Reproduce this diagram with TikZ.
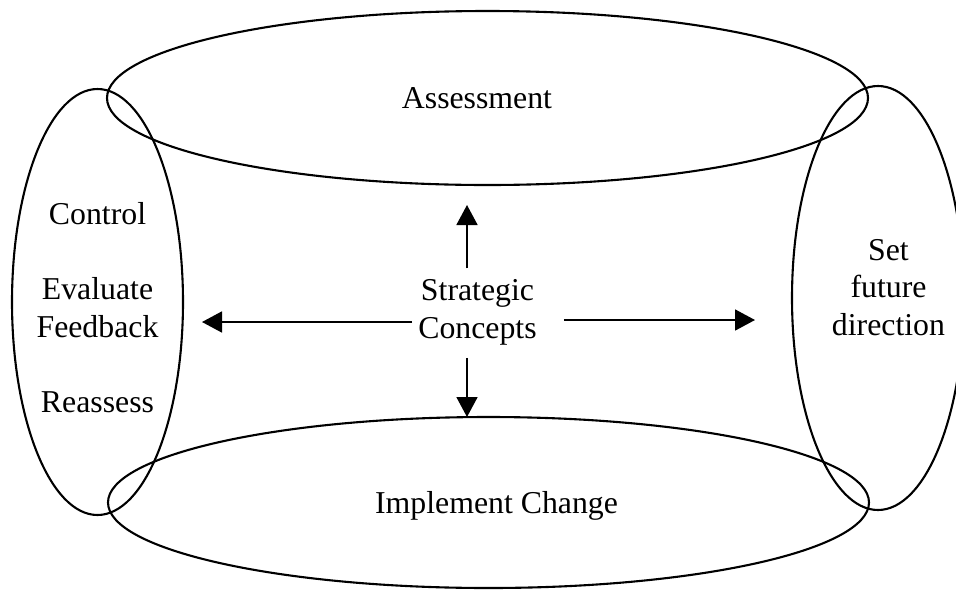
\documentclass[tikz,border=0pt]{standalone}
\usepackage{fontspec}
\setmainfont{Liberation Serif}
\usetikzlibrary{arrows.meta}

\begin{document}
\begin{tikzpicture}[x = 1pt, y = -1pt,
  loop/.style = {line width = 2.1pt},
  arr/.style = {line width = 1.7pt, -{Triangle[length = 20pt, width = 21pt]}},
  lbl/.style = {font = \fontsize{31.8}{37.5}\selectfont, align = center, inner sep = 0pt}]
\useasboundingbox (0,0) rectangle (956,590);
\clip (0,0) rectangle (956,590);

% the four loops
\draw[loop] (487.5,98) ellipse [x radius = 380.5, y radius = 87];
\draw[loop] (488.5,502.5) ellipse [x radius = 380.5, y radius = 85.5];
\draw[loop] (97.5,302) ellipse [x radius = 85.5, y radius = 213];
\draw[loop] (878,298) ellipse [x radius = 86, y radius = 212];

\node[lbl, anchor = base] (assess) at (477,108) {Assessment};
\node[lbl, anchor = base] (change) at (496.5,513) {Implement Change};
\node[lbl, anchor = base] (control) at (97.5,412) {Control\\[37.5pt]Evaluate\\Feedback\\[37.5pt]Reassess};
\node[lbl, anchor = base] (future) at (888.5,335) {Set\\future\\direction};
\node[lbl, anchor = base] (strat) at (477.5,338) {Strategic\\Concepts};

% arrow tips
\coordinate (up) at (467,205);
\coordinate (lt) at (202,322);
\coordinate (rt) at (755,320);
\coordinate (dn) at (467,417);

\draw[arr, shorten < = 11pt] (strat.north -| up) -- (up);
\draw[arr, shorten < = 6pt] (strat.west |- lt) -- (lt);
\draw[arr, shorten < = 27pt] (strat.east |- rt) -- (rt);
\draw[arr, shorten < = 13pt] (strat.south -| dn) -- (dn);
\end{tikzpicture}
\end{document}
